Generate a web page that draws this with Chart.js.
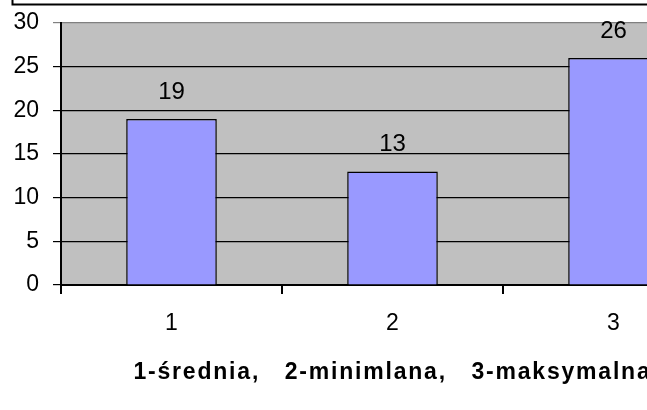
<!DOCTYPE html>
<html>
<head>
<meta charset="utf-8">
<script src="https://cdn.jsdelivr.net/npm/chart.js@4.4.1/dist/chart.umd.min.js"></script>
<style>
  html, body { margin: 0; padding: 0; background: #fff; overflow: hidden; }
  #wrap { width: 647px; height: 410px; overflow: hidden; position: relative; }
  #box { position: absolute; left: 0; top: 0; width: 760px; height: 410px; }
</style>
</head>
<body>
<div id="wrap"><div id="box"><canvas id="chart"></canvas></div></div>
<script>
const categories = ['1', '2', '3'];
const values = [19, 13, 26];
const yTicks = [0, 5, 10, 15, 20, 25, 30];
const axisTitle = '1-średnia,   2-minimlana,   3-maksymalna';

const font = 'Liberation Sans, Arial, sans-serif';

// gray plot background, the frame line above, value labels and the axis title
const decor = {
  id: 'decor',
  beforeDraw(chart) {
    const { ctx, chartArea: a } = chart;
    ctx.save();
    ctx.fillStyle = '#c0c0c0';
    ctx.fillRect(a.left, a.top, a.right - a.left, a.bottom - a.top);
    ctx.strokeStyle = '#000';
    ctx.lineWidth = 2;
    ctx.beginPath();
    ctx.moveTo(12.5, 0);
    ctx.lineTo(12.5, 4.5);
    ctx.lineTo(chart.width, 4.5);
    ctx.stroke();
    ctx.restore();
  },
  afterDatasetsDraw(chart) {
    const { ctx, chartArea: a } = chart;
    const meta = chart.getDatasetMeta(0);
    ctx.save();
    ctx.fillStyle = '#000';
    ctx.font = '24px ' + font;
    ctx.textAlign = 'center';
    ctx.textBaseline = 'alphabetic';
    meta.data.forEach((bar, i) => {
      ctx.fillText(String(values[i]), bar.x, bar.y - 20);
    });
    ctx.font = 'bold 23px ' + font;
    ctx.letterSpacing = '1.8px';
    ctx.fillText(axisTitle, (a.left + a.right) / 2, 379);
    ctx.restore();
  }
};

new Chart(document.getElementById('chart'), {
  type: 'bar',
  data: {
    labels: categories,
    datasets: [{
      data: values,
      backgroundColor: '#9999ff',
      borderColor: '#000',
      borderWidth: 1.5,
      barPercentage: 0.41,
      categoryPercentage: 1
    }]
  },
  options: {
    responsive: true,
    maintainAspectRatio: false,
    animation: false,
    events: [],
    layout: { padding: { left: 0, top: 23, right: 36, bottom: 0 } },
    plugins: { legend: { display: false }, tooltip: { enabled: false } },
    scales: {
      y: {
        min: 0,
        max: 30,
        afterBuildTicks(scale) { scale.ticks = yTicks.map(v => ({ value: v })); },
        afterFit(scale) {
          scale.width = 61;
          scale.paddingTop = 0;
          scale.paddingBottom = 0;
        },
        ticks: { color: '#000', font: { family: font, size: 23 }, padding: 14 },
        grid: {
          color: ctx => (ctx.tick && ctx.tick.value === 30 ? '#808080' : '#000'),
          lineWidth: 1.2,
          tickLength: 8
        },
        border: { display: true, color: '#000', width: 2 }
      },
      x: {
        afterFit(scale) { scale.height = 125; },
        ticks: { color: '#000', font: { family: font, size: 23 }, padding: 16 },
        grid: { drawOnChartArea: false, color: '#000', lineWidth: 2, tickLength: 9, offset: true },
        border: { display: true, color: '#000', width: 2 }
      }
    }
  },
  plugins: [decor]
});
</script>
</body>
</html>
